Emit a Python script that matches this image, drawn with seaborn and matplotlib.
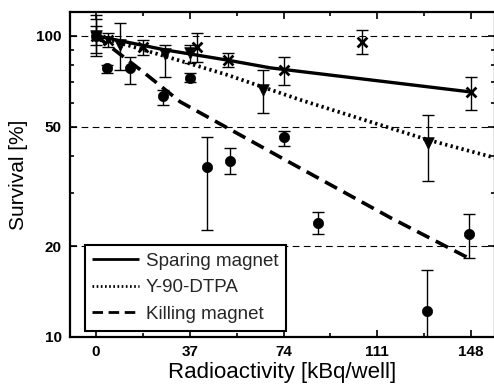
import numpy as np
import pandas as pd
import matplotlib
matplotlib.use("Agg")
import matplotlib.pyplot as plt
from matplotlib.ticker import FixedLocator, NullFormatter, FixedFormatter
import seaborn as sns

sparing_x = [0, 4.6, 18.5, 39.8, 52, 74, 105, 148]
sparing_y = [100, 97, 91.8, 92, 83, 77, 95.5, 65]
sparing_lo = [88, 92, 86.5, 82, 79, 68.7, 87, 56.8]
sparing_hi = [114, 102, 97, 102, 88, 85.2, 104.7, 73.1]

dtpa_x = [0, 9.3, 27.3, 37.2, 66, 131]
dtpa_y = [100, 93, 87, 88, 66, 44]
dtpa_lo = [93, 77, 73, 81.4, 55.5, 33]
dtpa_hi = [108, 110, 93.3, 93.3, 77, 54.6]

killing_x = [0, 4.5, 13.4, 26.5, 37.2, 43.9, 53, 74.3, 87.7, 130.8, 147.4]
killing_y = [100, 78, 78, 63, 72.5, 36.7, 38.4, 46.2, 23.9, 12.2, 22]
killing_lo = [86, 75.3, 69, 59, 70.3, 22.6, 34.8, 43.1, 22, 10, 18.3]
killing_hi = [117, 80, 85, 66, 75.3, 46.2, 42.5, 48.4, 26, 16.7, 25.6]

# Fitted curves
sparing_fit_x = [0, 27.3, 51.4, 68.8, 108.3, 148]
sparing_fit_y = [100, 89.8, 83.2, 78.3, 71.4, 65.1]
dtpa_fit_x = [0, 28, 51.8, 80.6, 130.8, 157.3]
dtpa_fit_y = [100, 85.2, 74.2, 61.3, 45.2, 39.4]
killing_fit_x = [0, 18.5, 33.2, 76.7, 116.2, 147]
killing_fit_y = [100, 76, 60.4, 37.9, 24.9, 18.3]

x_ticks = [0, 37, 74, 111, 148]
y_ticks = [10, 20, 50, 100]

sns.set_theme(style="ticks")
plt.rcParams["font.family"] = ["Liberation Sans", "DejaVu Sans"]

fig = plt.figure(figsize=(4.94, 3.91), dpi=100)
ax = fig.add_axes([70 / 494, 1 - 337 / 391, 425 / 494, 325 / 391])
ax.set_yscale("log")

# reference grid lines at 20, 50, 100
for g in [20, 50, 100]:
    ax.axhline(g, color="black", lw=0.8, ls=(0, (6, 4)), zorder=1)

fits = pd.concat([
    pd.DataFrame({"x": sparing_fit_x, "y": sparing_fit_y, "s": "Sparing magnet"}),
    pd.DataFrame({"x": dtpa_fit_x, "y": dtpa_fit_y, "s": "Y-90-DTPA"}),
    pd.DataFrame({"x": killing_fit_x, "y": killing_fit_y, "s": "Killing magnet"}),
])
styles = {"Sparing magnet": (0, ()), "Y-90-DTPA": (0, (0.6, 0.9)), "Killing magnet": (0, (3.8, 2))}
widths = {"Sparing magnet": 2.4, "Y-90-DTPA": 2.7, "Killing magnet": 2.6}
for name, grp in fits.groupby("s", sort=False):
    sns.lineplot(data=grp, x="x", y="y", ax=ax, color="black", lw=widths[name],
                 linestyle=styles[name], label=name, zorder=3, sort=False)

# error bars + markers
for xs, ys, lo, hi, mk, ms in [
    (killing_x, killing_y, killing_lo, killing_hi, "o", 55),
    (dtpa_x, dtpa_y, dtpa_lo, dtpa_hi, "v", 70),
    (sparing_x, sparing_y, sparing_lo, sparing_hi, "x", 50),
]:
    ys_a = np.array(ys)
    err = [ys_a - np.array(lo), np.array(hi) - ys_a]
    ax.errorbar(xs, ys, yerr=err, fmt="none", ecolor="black", elinewidth=1.0,
                capsize=4.5, capthick=1.0, zorder=4)
    sns.scatterplot(x=xs, y=ys, ax=ax, marker=mk, s=ms, color="black",
                    edgecolor="black", linewidth=2 if mk == "x" else 0.5, zorder=5)

ax.set_xlim(-10.3, 157.5)
ax.set_ylim(10, 120)
ax.xaxis.set_major_locator(FixedLocator(x_ticks))
ax.xaxis.set_minor_locator(FixedLocator([18.5, 55.5, 92.5, 129.5]))
ax.yaxis.set_major_locator(FixedLocator(y_ticks))
ax.yaxis.set_major_formatter(FixedFormatter([str(v) for v in y_ticks]))
ax.yaxis.set_minor_locator(FixedLocator([30, 40, 60, 70, 80, 90]))
ax.yaxis.set_minor_formatter(NullFormatter())
ax.tick_params(which="both", direction="in", top=True, right=True, colors="black",
               labelsize=11, width=1.2)
ax.tick_params(which="major", length=5, pad=6)
ax.tick_params(which="minor", length=3)
for lab in ax.get_xticklabels() + ax.get_yticklabels():
    lab.set_fontweight("bold")
for sp in ax.spines.values():
    sp.set_linewidth(1.6)
    sp.set_color("black")

ax.set_xlabel("Radioactivity [kBq/well]", fontsize=16, color="black", labelpad=2)
ax.set_ylabel("Survival [%]", fontsize=15, color="black", labelpad=6)

leg = ax.legend(loc="lower left", bbox_to_anchor=(0.035, 0.02), borderaxespad=0,
                fontsize=13.5, handlelength=2.5, labelspacing=0.5, handletextpad=0.35,
                borderpad=0.4, fancybox=False, framealpha=1, edgecolor="black")
leg.get_frame().set_linewidth(1.5)
for h in leg.get_lines():
    h.set_linewidth(2.0)

fig.savefig("out.png", dpi=100)
